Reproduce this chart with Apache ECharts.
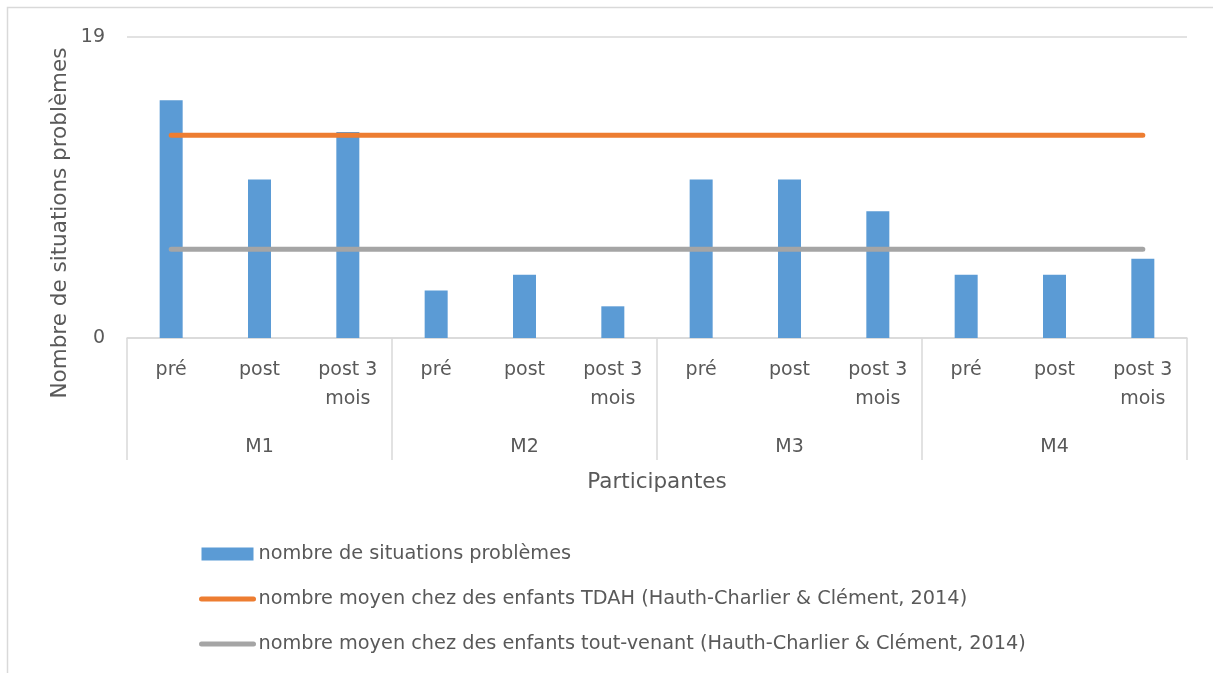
<!DOCTYPE html>
<html>
<head>
<meta charset="utf-8">
<script src="https://cdn.jsdelivr.net/npm/echarts@6/dist/echarts.min.js"></script>
<style>
  html, body { margin: 0; padding: 0; background: #fff; }
  #chart { width: 1213px; height: 673px; }
</style>
</head>
<body>
<div id="chart"></div>
<script>
// data
const phases = ["pré", "post", "post 3\nmois", "pré", "post", "post 3\nmois", "pré", "post", "post 3\nmois", "pré", "post", "post 3\nmois"];
const participants = ["M1", "M2", "M3", "M4"];
const situations = [15, 10, 13, 3, 4, 2, 10, 10, 8, 4, 4, 5];
const moyenTDAH = [12.8, 12.8, 12.8, 12.8, 12.8, 12.8, 12.8, 12.8, 12.8, 12.8, 12.8, 12.8];
const moyenToutVenant = [5.6, 5.6, 5.6, 5.6, 5.6, 5.6, 5.6, 5.6, 5.6, 5.6, 5.6, 5.6];
const yTicks = [0, 19];

const FONT = "DejaVu Sans";
const TXT = "#595959";
const GRID_COLOR = "#D9D9D9";

// hide the circle ECharts puts on line legend icons
const lineLegend = {
  itemStyle: { color: "rgba(0,0,0,0)", opacity: 0, borderWidth: 0 }
};

const chart = echarts.init(document.getElementById("chart"));

const option = {
  animation: false,
  textStyle: { fontFamily: FONT, color: TXT },
  grid: { left: 127, right: 26, top: 37, bottom: 335 },
  legend: {
    orient: "vertical",
    left: 194,
    top: 537,
    itemWidth: 52,
    itemHeight: 13,
    itemGap: 21,
    textStyle: { fontFamily: FONT, fontSize: 19.3, lineHeight: 24, color: TXT },
    data: [
      { name: "nombre de situations problèmes", icon: "rect" },
      Object.assign({ name: "nombre moyen chez des enfants TDAH (Hauth-Charlier & Clément, 2014)",
        lineStyle: { color: "#ED7D31", width: 5, cap: "round" } }, lineLegend),
      Object.assign({ name: "nombre moyen chez des enfants tout-venant (Hauth-Charlier & Clément, 2014)",
        lineStyle: { color: "#A5A5A5", width: 5, cap: "round" } }, lineLegend)
    ]
  },
  graphic: [
    {
      type: "rect",
      shape: { x: 7.5, y: 7.5, width: 1230, height: 700 },
      style: { fill: null, stroke: GRID_COLOR, lineWidth: 1.5 },
      silent: true
    },
    {
      type: "text",
      x: 60,
      y: 223,
      rotation: Math.PI / 2,
      style: {
        text: "Nombre de situations problèmes",
        font: "21.5px '" + FONT + "'",
        fill: TXT,
        align: "center",
        verticalAlign: "middle"
      }
    }
  ],
  xAxis: [
    {
      type: "category",
      data: phases,
      position: "bottom",
      axisLine: { lineStyle: { color: GRID_COLOR, width: 1.5 } },
      axisTick: { show: false },
      axisLabel: {
        interval: 0,
        fontSize: 19,
        lineHeight: 29,
        color: TXT,
        margin: 18
      }
    },
    {
      type: "category",
      data: participants,
      position: "bottom",
      name: "Participantes",
      nameLocation: "middle",
      nameGap: 133,
      nameTextStyle: { fontSize: 21.5, color: TXT },
      axisLine: { show: false },
      axisTick: {
        show: true,
        length: 122,
        lineStyle: { color: GRID_COLOR, width: 1.5 }
      },
      axisLabel: {
        fontSize: 19,
        color: TXT,
        margin: 100
      }
    }
  ],
  yAxis: {
    type: "value",
    min: yTicks[0],
    max: yTicks[1],
    interval: 19,
    axisLine: { show: false },
    axisTick: { show: false },
    axisLabel: { fontSize: 19, color: TXT, margin: 22 },
    splitLine: { lineStyle: { color: GRID_COLOR, width: 1.5 } }
  },
  series: [
    {
      name: "nombre de situations problèmes",
      type: "bar",
      data: situations,
      barWidth: 23,
      itemStyle: { color: "#5B9BD5" },
      z: 2
    },
    {
      name: "nombre moyen chez des enfants TDAH (Hauth-Charlier & Clément, 2014)",
      type: "line",
      data: moyenTDAH,
      symbol: "none",
      lineStyle: { color: "#ED7D31", width: 5, cap: "round" },
      itemStyle: { color: "#ED7D31" },
      z: 3
    },
    {
      name: "nombre moyen chez des enfants tout-venant (Hauth-Charlier & Clément, 2014)",
      type: "line",
      data: moyenToutVenant,
      symbol: "none",
      lineStyle: { color: "#A5A5A5", width: 5, cap: "round" },
      itemStyle: { color: "#A5A5A5" },
      z: 3
    }
  ]
};

chart.setOption(option);
</script>
</body>
</html>
